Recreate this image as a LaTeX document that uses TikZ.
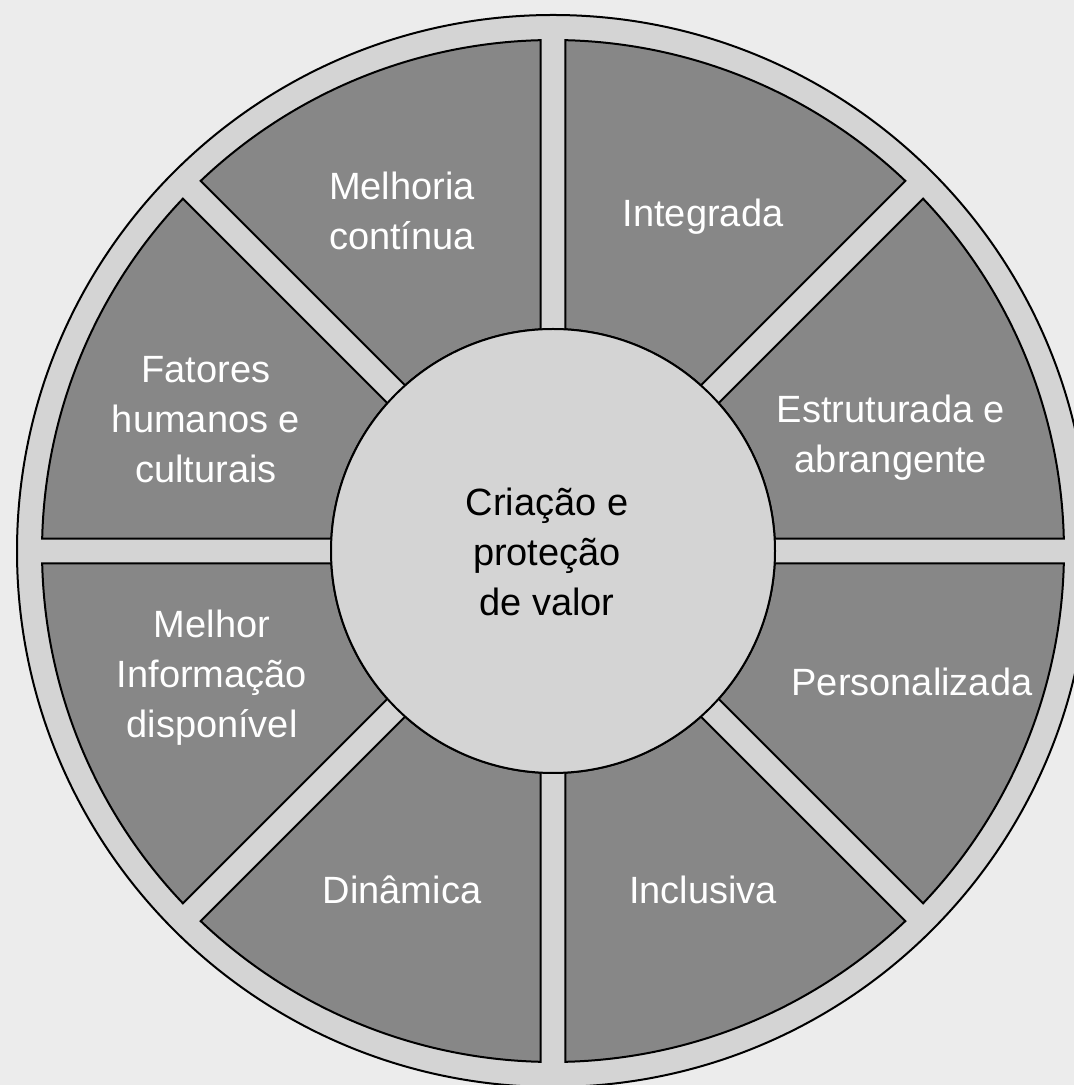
\documentclass[tikz,border=0pt]{standalone}
\usepackage{fontspec}
\setmainfont{Liberation Sans}
\definecolor{bgc}{HTML}{ECECEC}
\definecolor{ringc}{HTML}{D4D4D4}
\definecolor{secc}{HTML}{878787}
\begin{document}
\begin{tikzpicture}[x=1pt,y=1pt,
  sector/.style={fill=secc,draw=black,line width=2pt},
  ring/.style={fill=ringc,draw=black,line width=2pt},
  lbl/.style={text=white,align=center,font=\fontsize{38}{50}\selectfont,inner sep=0pt},
  hub/.style={circle,fill=ringc,draw=black,line width=2pt,minimum size=444pt,inner sep=0pt,
              align=center,font=\fontsize{38}{50}\selectfont,text=black}]
\fill[bgc] (0,0) rectangle (1074,1085);
\useasboundingbox (0,0) rectangle (1074,1085);
\clip (0,0) rectangle (1074,1085);
\coordinate (C) at (553,534);
\draw[ring] (C) circle (536);
\begin{scope}[shift={(553,534)}]
\foreach \a in {0,45,...,315}{
  \pgfmathsetmacro{\ai}{\a+asin(12.5/222)}
  \pgfmathsetmacro{\ao}{\a+asin(12.5/511)}
  \pgfmathsetmacro{\bo}{\a+45-asin(12.5/511)}
  \pgfmathsetmacro{\bi}{\a+45-asin(12.5/222)}
  \draw[sector] (\ai:222) -- (\ao:511) arc[start angle=\ao,end angle=\bo,radius=511]
     -- (\bi:222) arc[start angle=\bi,end angle=\ai,radius=222] -- cycle;
}
\end{scope}
\node[hub] (hub) at (C) {};
\node[align=center,font=\fontsize{38}{50}\selectfont,inner sep=0pt] (hubtext) at (547,{1085-552}) {Criação e\\proteção\\de valor};
\node[lbl] (l1) at (402,{1085-211}) {Melhoria\\contínua};
\node[lbl] (l2) at (703,{1085-217}) {Integrada};
\node[lbl] (l3) at (206,{1085-420}) {Fatores\\humanos e\\culturais};
\node[lbl] (l4) at (891,{1085-438}) {Estruturada e\\abrangente};
\node[lbl] (l5) at (212,{1085-678}) {Melhor\\Informação\\disponível};
\node[lbl] (l6) at (912,{1085-682}) {Personalizada};
\node[lbl] (l7) at (402,{1085-890}) {Dinâmica};
\node[lbl] (l8) at (703,{1085-890}) {Inclusiva};
\end{tikzpicture}
\end{document}
